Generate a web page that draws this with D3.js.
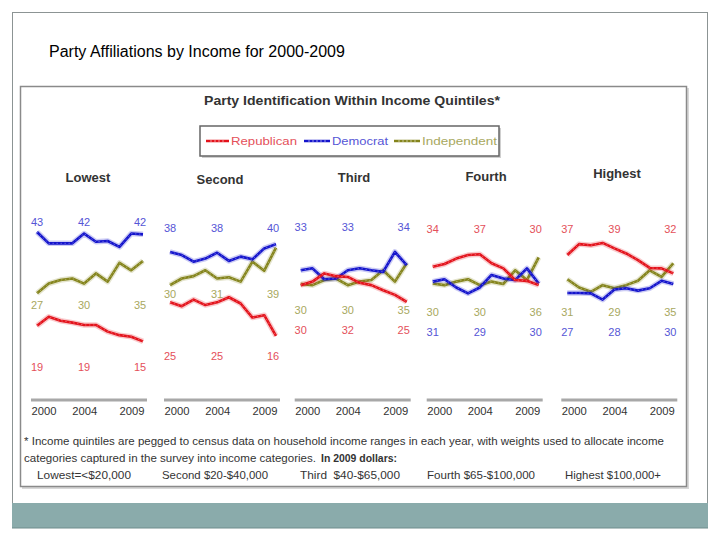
<!DOCTYPE html>
<html>
<head>
<meta charset="utf-8">
<script src="https://cdn.jsdelivr.net/npm/d3@7"></script>
<style>
  html, body { margin: 0; padding: 0; background: #fff; }
  svg { display: block; }
</style>
</head>
<body>
<svg id="chart" width="720" height="540"></svg>
<script>
// ---------------- DATA ----------------
const years = [2000, 2001, 2002, 2003, 2004, 2005, 2006, 2007, 2008, 2009];
const tickYears = [2000, 2004, 2009];
const quintiles = ["Lowest", "Second", "Third", "Fourth", "Highest"];
const parties = ["Republican", "Democrat", "Independent"];

// one row per quintile, one value per year
const republican = [
  [19, 21.3, 20.3, 19.8, 19.2, 19.2, 17.5, 16.6, 16.2, 15],
  [25, 24, 25.7, 24.3, 25, 26.3, 24.7, 21.1, 21.7, 16.4],
  [29.4, 30.3, 32.4, 31.7, 31.5, 30, 29.4, 28.1, 26.9, 25.1],
  [34.1, 34.8, 36.2, 37.1, 37.3, 35, 33.7, 30.7, 30.5, 29.4],
  [37.1, 39.9, 39.6, 40.2, 38.8, 37.5, 35.8, 33.8, 33.7, 32.4]
];
const democrat = [
  [43, 40.1, 40.1, 40.1, 42.6, 40.5, 40.7, 39.2, 42.6, 42.4],
  [37.9, 37.1, 35.4, 36.2, 37.7, 35.6, 36.7, 36, 38.8, 39.9],
  [33.2, 33.7, 30.9, 31.1, 33.2, 33.7, 33.2, 32.8, 37.9, 34.5],
  [30.3, 30.9, 28.8, 27.3, 28.8, 32, 31.1, 30.7, 33.7, 29.8],
  [27.4, 27.4, 27.3, 25.7, 28.3, 28.6, 28, 28.6, 30.5, 29.7]
];
const independent = [
  [27.3, 29.8, 30.7, 31.1, 29.8, 32.4, 30.3, 35.1, 33.2, 35.6],
  [29.4, 31.1, 31.7, 33.2, 31.1, 31.4, 30.3, 35.4, 33.1, 39],
  [29.7, 29.4, 30.7, 31.1, 29.4, 30.3, 30.7, 33.2, 30.3, 35],
  [29.8, 29.4, 30.3, 30.9, 29.4, 30.3, 29.7, 33.2, 30.7, 36.5],
  [30.9, 28.8, 27.7, 29.4, 28.6, 29.4, 30.5, 33.2, 31.5, 35]
];

// printed labels (2000, 2004, 2009) per quintile
const repLabels = [[19, 19, 15], [25, 25, 16], [30, 32, 25], [34, 37, 30], [37, 39, 32]];
const demLabels = [[43, 42, 42], [38, 38, 40], [33, 33, 34], [31, 29, 30], [27, 28, 30]];
const indLabels = [[27, 30, 35], [30, 31, 39], [30, 30, 35], [30, 30, 36], [31, 29, 35]];

const incomeRanges = ["Lowest=<$20,000", "Second $20-$40,000", "Third  $40-$65,000", "Fourth $65-$100,000", "Highest $100,000+"];

// ---------------- LAYOUT / STYLE ----------------
const colors = { Republican: "#e3121b", Democrat: "#1414cc", Independent: "#84841c" };
const labelColors = { Republican: "#e4505a", Democrat: "#5555d6", Independent: "#a8a860" };
const narrow = "'Liberation Sans Narrow', 'Arial Narrow', 'Liberation Sans', Arial, sans-serif";
const sans = "'Liberation Sans', Arial, sans-serif";

// label row (y) for each party per panel
const labelRows = [
  { Democrat: 226, Independent: 309, Republican: 371 },
  { Democrat: 232, Independent: 298, Republican: 360 },
  { Democrat: 231, Independent: 314, Republican: 334 },
  { Democrat: 336, Independent: 316, Republican: 233 },
  { Democrat: 336, Independent: 316, Republican: 233 }
];
const panelX0 = [37, 170, 300.7, 432.7, 567.3];
const panelSpan = 106;

const svg = d3.select("#chart");

// slide frame
svg.append("rect").attr("x", 12.5).attr("y", 12.5).attr("width", 695).attr("height", 515)
  .attr("fill", "#fff").attr("stroke", "#8c9494").attr("stroke-width", 1);
svg.append("rect").attr("x", 12).attr("y", 503).attr("width", 696).attr("height", 25)
  .attr("fill", "#8aabab");
svg.append("line").attr("x1", 12).attr("x2", 708).attr("y1", 528).attr("y2", 528)
  .attr("stroke", "#6f8c8c").attr("stroke-width", 1);

svg.append("text").attr("x", 49).attr("y", 57)
  .attr("font-family", sans).attr("font-size", 16).attr("fill", "#000")
  .text("Party Affiliations by Income for 2000-2009");

// embedded chart box
svg.append("rect").attr("x", 22).attr("y", 88).attr("width", 667).attr("height", 401)
  .attr("fill", "#d8d8d8");
svg.append("rect").attr("x", 20.5).attr("y", 86.5).attr("width", 666).attr("height", 400)
  .attr("fill", "#fff").attr("stroke", "#8a8a8a").attr("stroke-width", 1.5);

svg.append("text").attr("x", 352).attr("y", 105).attr("text-anchor", "middle")
  .attr("font-family", narrow).attr("font-weight", "bold").attr("font-size", 12.5)
  .attr("fill", "#333").attr("textLength", 296).attr("lengthAdjust", "spacingAndGlyphs")
  .text("Party Identification Within Income Quintiles*");

// legend
svg.append("rect").attr("x", 202).attr("y", 128).attr("width", 299).attr("height", 30).attr("fill", "#cfcfcf");
svg.append("rect").attr("x", 200).attr("y", 126).attr("width", 299).attr("height", 30)
  .attr("fill", "#fff").attr("stroke", "#666").attr("stroke-width", 1.5);
const legendItems = [
  { p: "Republican", x1: 206, x2: 229, tx: 231, tl: 66 },
  { p: "Democrat", x1: 304, x2: 330, tx: 332, tl: 56 },
  { p: "Independent", x1: 394, x2: 420, tx: 422, tl: 75 }
];
legendItems.forEach(d => {
  svg.append("line").attr("x1", d.x1).attr("x2", d.x2).attr("y1", 141).attr("y2", 141)
    .attr("stroke", colors[d.p]).attr("stroke-width", 2.5);
  svg.append("line").attr("x1", d.x1 + 4).attr("x2", d.x2 - 4).attr("y1", 141).attr("y2", 141)
    .attr("stroke", "#fff").attr("stroke-width", 0.8).attr("stroke-dasharray", "2,2").attr("opacity", 0.7);
  svg.append("text").attr("x", d.tx).attr("y", 145).attr("font-family", narrow).attr("font-size", 11)
    .attr("fill", labelColors[d.p]).attr("textLength", d.tl).attr("lengthAdjust", "spacingAndGlyphs")
    .text(d.p);
});

// shared y scale: 0 at the axis line
const y = d3.scaleLinear().domain([0, 43]).range([400, 232]);
const panelLabelY = [182, 184, 182, 181, 178];
const panelLabelX = [88, 220, 354, 486, 617];

const seriesData = { Republican: republican, Democrat: democrat, Independent: independent };
const labelData = { Republican: repLabels, Democrat: demLabels, Independent: indLabels };

quintiles.forEach((q, i) => {
  const x = d3.scaleLinear().domain([2000, 2009]).range([panelX0[i], panelX0[i] + panelSpan]);
  const g = svg.append("g");

  g.append("text").attr("x", panelLabelX[i]).attr("y", panelLabelY[i]).attr("text-anchor", "middle")
    .attr("font-family", narrow).attr("font-weight", "bold").attr("font-size", 13).attr("fill", "#333")
    .text(q);

  // axis
  const axis = d3.axisBottom(x).tickValues(tickYears).tickFormat(d3.format("d")).tickSize(0).tickPadding(8);
  const ag = g.append("g").attr("transform", "translate(0,400)").call(axis);
  ag.select(".domain").attr("d", `M${x(2000) - 6},0H${x(2009) + 4}`)
    .attr("stroke", "#a8a8a8").attr("stroke-width", 3);
  ag.selectAll("text").attr("font-family", sans).attr("font-size", 10.5).attr("fill", "#333")
    .attr("textLength", 25).attr("lengthAdjust", "spacingAndGlyphs");
  ag.selectAll(".tick").filter(d => d === 2000).select("text").attr("text-anchor", "start").attr("dx", -6);
  ag.selectAll(".tick").filter(d => d === 2009).select("text").attr("text-anchor", "end").attr("dx", 1);

  const line = d3.line().x((d, j) => x(years[j])).y(d => y(d));

  ["Independent", "Democrat", "Republican"].forEach(p => {
    const vals = seriesData[p][i];
    g.append("path").datum(vals).attr("d", line).attr("fill", "none")
      .attr("stroke", colors[p]).attr("stroke-width", 5.5).attr("opacity", 0.22)
      .attr("stroke-linejoin", "round");
    g.append("path").datum(vals).attr("d", line).attr("fill", "none")
      .attr("stroke", colors[p]).attr("stroke-width", 2.6).attr("stroke-linejoin", "round");
    g.append("path").datum(vals).attr("d", line).attr("fill", "none")
      .attr("stroke", "#fff").attr("stroke-width", 0.7).attr("opacity", 0.45)
      .attr("stroke-dasharray", "1.5,2.5");
  });

  parties.forEach(p => {
    const labs = labelData[p][i];
    tickYears.forEach((yr, k) => {
      g.append("text").attr("x", x(yr) + (k === 2 ? -3 : 0)).attr("y", labelRows[i][p])
        .attr("text-anchor", "middle").attr("font-family", narrow).attr("font-size", 11)
        .attr("fill", labelColors[p]).text(labs[k]);
    });
  });
});

// footnote
const foot = svg.append("g").attr("font-family", narrow).attr("font-size", 10.5).attr("fill", "#333");
foot.append("text").attr("x", 24).attr("y", 445).attr("textLength", 640).attr("lengthAdjust", "spacingAndGlyphs")
  .text("* Income quintiles are pegged to census data on household income ranges in each year, with weights used to allocate income");
const l2 = foot.append("text").attr("x", 24).attr("y", 462);
l2.append("tspan").attr("textLength", 292).attr("lengthAdjust", "spacingAndGlyphs")
  .text("categories captured in the survey into income categories.");
l2.append("tspan").attr("dx", 5).attr("font-weight", "bold").attr("textLength", 76).attr("lengthAdjust", "spacingAndGlyphs")
  .text("In 2009 dollars:");
const rangeX = [37, 162, 300, 427, 565];
const rangeW = [94, 106, 100, 108, 96];
incomeRanges.forEach((t, i) => {
  foot.append("text").attr("x", rangeX[i]).attr("y", 479).attr("textLength", rangeW[i])
    .attr("lengthAdjust", "spacingAndGlyphs").attr("xml:space", "preserve").text(t);
});
</script>
</body>
</html>
